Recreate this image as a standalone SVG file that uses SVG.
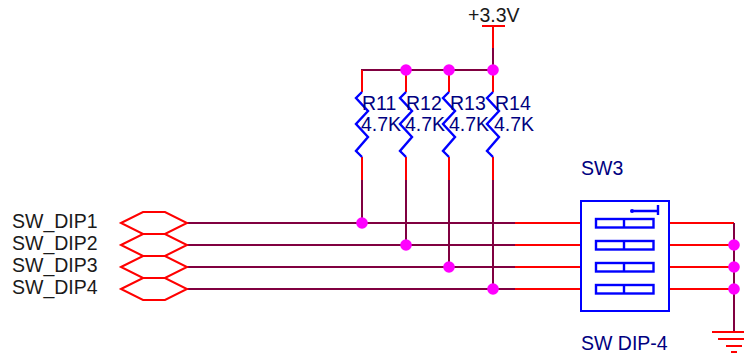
<svg xmlns="http://www.w3.org/2000/svg" width="744" height="358" viewBox="0 0 744 358">
<style>
text{font-family:"Liberation Sans",Arial,sans-serif;font-size:19.5px}
.lbl{fill:#1a1a1a}.ref{fill:#000080}
.r{fill:none;stroke:#ff0000;stroke-width:2}
.w{fill:none;stroke:#800040;stroke-width:2}
.b{fill:none;stroke:#0000ff;stroke-width:2.4}
.h{fill:#fff;stroke:#ff0000;stroke-width:2}
.d{fill:#ff00ff}
</style>
<rect width="744" height="358" fill="#fff"/>
<g id="connectors">
<path class="w" d="M362 92V70H493V48"/>
<path class="r" d="M493 48V26"/>
<path class="r" d="M362 70V92M406 70V92M449 70V92M493 70V92"/>
<path class="r" d="M362 157V180M406 157V180M449 157V180M493 157V180"/>
<path class="w" d="M362 180V223M406 180V245M449 180V267M493 180V289"/>
<path class="w" d="M187 223H515M187 245H515M187 267H515M187 289H515"/>
<path class="r" d="M515 223H581M515 245H581M515 267H581M515 289H581"/>
<path class="r" d="M668 223H734M668 245H734M668 267H734M668 289H734"/>
<path class="w" d="M734 223V332"/>
</g>
<g id="vcc"><path class="r" d="M482 26H505"/><text class="lbl" x="468" y="22">+3.3V</text></g>
<g id="j1"><circle class="d" cx="406" cy="70" r="5.800"/><circle class="d" cx="449" cy="70" r="5.800"/><circle class="d" cx="493" cy="70" r="5.800"/></g>
<g id="j2"><circle class="d" cx="362" cy="223" r="5.800"/><circle class="d" cx="406" cy="245" r="5.800"/><circle class="d" cx="449" cy="267" r="5.800"/><circle class="d" cx="493" cy="289" r="5.800"/></g>
<g id="j3"><circle class="d" cx="734" cy="245" r="5.800"/><circle class="d" cx="734" cy="267" r="5.800"/><circle class="d" cx="734" cy="289" r="5.800"/></g>
<g id="R11"><path class="b" d="M362 92L356 98L368 111L356 124L368 137L356 151L362 157"/><text class="ref" x="362" y="110">R11</text><text class="ref" x="361" y="131">4.7K</text></g>
<g id="R12"><path class="b" d="M406 92L400 98L412 111L400 124L412 137L400 151L406 157"/><text class="ref" x="406" y="110">R12</text><text class="ref" x="405" y="131">4.7K</text></g>
<g id="R13"><path class="b" d="M449 92L443 98L455 111L443 124L455 137L443 151L449 157"/><text class="ref" x="450" y="110">R13</text><text class="ref" x="449" y="131">4.7K</text></g>
<g id="R14"><path class="b" d="M493 92L487 98L499 111L487 124L499 137L487 151L493 157"/><text class="ref" x="495" y="110">R14</text><text class="ref" x="494" y="131">4.7K</text></g>
<g id="SW_DIP1"><path class="h" d="M121 223L143 212H165L187 223L165 234H143Z"/><text class="lbl" x="12" y="228">SW_DIP1</text></g>
<g id="SW_DIP2"><path class="h" d="M121 245L143 234H165L187 245L165 256H143Z"/><text class="lbl" x="12" y="250">SW_DIP2</text></g>
<g id="SW_DIP3"><path class="h" d="M121 267L143 256H165L187 267L165 278H143Z"/><text class="lbl" x="12" y="272">SW_DIP3</text></g>
<g id="SW_DIP4"><path class="h" d="M121 289L143 278H165L187 289L165 300H143Z"/><text class="lbl" x="12" y="294">SW_DIP4</text></g>
<g id="SW3">
<rect x="581" y="201" width="88" height="110" fill="#fff" stroke="#0000ff" stroke-width="2"/>
<path class="b" d="M632 211H658M658 205V215"/>
<circle cx="632" cy="211" r="2" fill="#0000ff"/>
<g class="b"><rect x="596" y="219" width="57.500" height="8.500"/><path d="M624 219V227"/>
<rect x="596" y="241" width="57.500" height="8.500"/><path d="M624 241V249"/>
<rect x="596" y="263" width="57.500" height="8.500"/><path d="M624 263V271"/>
<rect x="596" y="285" width="57.500" height="8.500"/><path d="M624 285V293"/></g>
<text class="ref" x="581" y="175">SW3</text><text class="ref" x="581" y="350">SW DIP-4</text>
</g>
<g id="gnd"><path class="r" d="M712 332H744M718 339H744M726 346H742M731 352H737"/></g>
</svg>
